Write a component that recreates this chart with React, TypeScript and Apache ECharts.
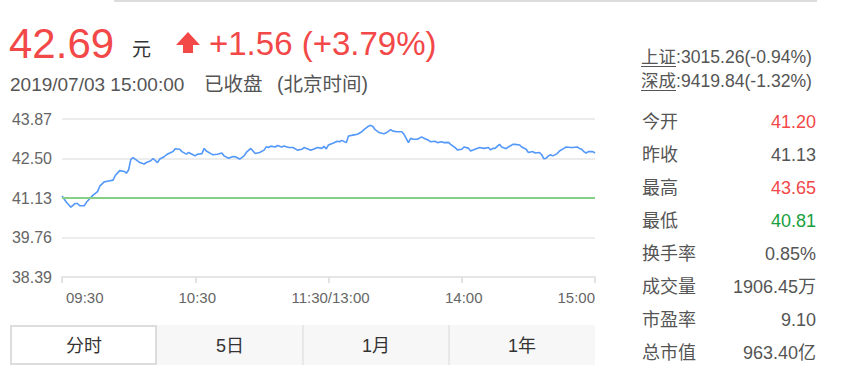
import React, { useEffect, useRef } from "react";
import * as echarts from "echarts";

// ---- data ----
const minutes = [
  0, 2, 4, 6, 7, 8, 10, 11, 13, 14, 16, 17, 19, 21, 23, 24, 26, 28, 29, 30,
  31, 32, 34, 35, 37, 38, 40, 41, 43, 44, 46, 47, 49, 50, 51, 53, 54, 56, 57, 59,
  60, 61, 63, 64, 65, 67, 68, 70, 72, 73, 75, 77, 78, 80, 82, 83, 85, 86, 87, 89,
  91, 92, 93, 94, 96, 97, 99, 100, 102, 104, 106, 108, 109, 111, 112, 114, 115, 117, 118, 119,
  120, 122, 124, 125, 126, 128, 129, 131, 133, 135, 136, 138, 139, 140, 141, 143, 145, 146, 148, 149,
  151, 153, 154, 156, 157, 158, 160, 162, 163, 165, 166, 168, 169, 171, 172, 174, 175, 177, 178, 180,
  181, 183, 184, 186, 188, 190, 192, 193, 194, 195, 197, 198, 200, 201, 203, 204, 206, 207, 209, 210,
  212, 213, 215, 216, 217, 218, 219, 220, 221, 223, 224, 226, 227, 229, 230, 232, 233, 234, 235, 236,
  237, 239, 240,
];
const prices = [
  41.2, 40.98, 40.81, 40.94, 40.94, 40.86, 40.86, 40.98, 41.15, 41.23, 41.35, 41.54, 41.69, 41.72, 41.75, 41.91, 42.08, 42.05, 41.99, 42.11,
  42.47, 42.53, 42.42, 42.36, 42.31, 42.36, 42.42, 42.5, 42.36, 42.48, 42.56, 42.63, 42.71, 42.74, 42.84, 42.82, 42.74, 42.65, 42.71, 42.63,
  42.59, 42.65, 42.67, 42.85, 42.76, 42.67, 42.63, 42.65, 42.69, 42.59, 42.51, 42.57, 42.56, 42.48, 42.59, 42.71, 42.85, 42.76, 42.67, 42.71,
  42.79, 42.91, 42.88, 42.93, 42.9, 42.95, 42.9, 42.93, 42.88, 42.88, 42.79, 42.82, 42.88, 42.82, 42.79, 42.85, 42.88, 42.85, 42.92, 42.83,
  42.97, 43.03, 43.1, 43.08, 43.13, 43.05, 43.28, 43.31, 43.34, 43.43, 43.5, 43.62, 43.65, 43.61, 43.5, 43.39, 43.36, 43.39, 43.5, 43.45,
  43.43, 43.43, 43.34, 43.05, 43.2, 43.17, 43.17, 43.25, 43.2, 43.13, 43.08, 43.1, 43.05, 43.08, 43.05, 43.06, 42.99, 42.88, 42.8, 42.82,
  42.9, 42.86, 42.76, 42.82, 42.88, 42.85, 42.88, 42.8, 42.85, 42.85, 42.99, 42.9, 42.84, 42.9, 42.99, 42.99, 42.97, 42.9, 42.82, 42.71,
  42.74, 42.69, 42.71, 42.63, 42.49, 42.51, 42.59, 42.63, 42.59, 42.67, 42.76, 42.85, 42.9, 42.88, 42.88, 42.9, 42.85, 42.82, 42.74, 42.69,
  42.74, 42.74, 42.69,
];
const prevClose = 41.13;
const yTicks = [38.39, 39.76, 41.13, 42.5, 43.87];
const xTickMinutes = [0, 60, 120, 180, 240];
const xTickLabels = ["09:30", "10:30", "11:30/13:00", "14:00", "15:00"];

const lastPrice = "42.69";
const changeText = "+1.56 (+3.79%)";
const dateText = "2019/07/03 15:00:00";
const statusText = "已收盘";
const zoneText = "(北京时间)";

const indexNames = ["上证", "深成"];
const indexValues = [":3015.26(-0.94%)", ":9419.84(-1.32%)"];

const statLabels = ["今开", "昨收", "最高", "最低", "换手率", "成交量", "市盈率", "总市值"];
const statValues = ["41.20", "41.13", "43.65", "40.81", "0.85%", "1906.45万", "9.10", "963.40亿"];
const statTrend = ["up", "flat", "up", "down", "flat", "flat", "flat", "flat"];

const tabLabels = ["分时", "5日", "1月", "1年"];

// ---- styles ----
const FONT = "'Liberation Sans', Arial, 'Noto Sans CJK SC', sans-serif";
const RED = "#f24848";
const GREEN = "#17a03e";
const GRAY = "#555";

function txt(text: string, x: number, y: number, size: number, fill: string, align = "left") {
  return {
    type: "text",
    x,
    y,
    silent: true,
    style: {
      text,
      fill,
      fontSize: size,
      fontFamily: FONT,
      textAlign: align,
      textVerticalAlign: "middle",
      align,
      verticalAlign: "middle",
    },
  };
}

export default function App() {
  const ref = useRef<HTMLDivElement>(null);

  useEffect(() => {
    document.body.style.margin = "0";
    if (!ref.current) return;
    const chart = echarts.init(ref.current, undefined, { renderer: "svg" });

    const graphic: any[] = [];
    // top border line
    graphic.push({ type: "rect", shape: { x: 114, y: 0, width: 703, height: 2 }, style: { fill: "#dcdcdc" }, silent: true });

    // header
    graphic.push(txt(lastPrice, 9, 43, 42, RED));
    graphic.push(txt("元", 132, 49, 19, "#333"));
    graphic.push({
      type: "polygon",
      silent: true,
      shape: { points: [[188, 32], [176, 45], [183, 45], [183, 53], [193, 53], [193, 45], [200, 45]] },
      style: { fill: RED },
    });
    graphic.push(txt(changeText, 209, 43, 33, RED));
    graphic.push(txt(dateText, 10, 84, 19, GRAY));
    graphic.push(txt(statusText, 204, 84, 19.5, GRAY));
    graphic.push(txt(zoneText, 277, 84, 19.5, GRAY));

    // index lines
    const idxY = [57, 81];
    indexNames.forEach((n, i) => {
      graphic.push(txt(n, 641, idxY[i], 17.5, GRAY));
      graphic.push(txt(indexValues[i], 676, idxY[i], 17.6, GRAY));
      graphic.push({
        type: "line",
        silent: true,
        shape: { x1: 641, y1: idxY[i] + 9.5, x2: 676, y2: idxY[i] + 9.5 },
        style: { stroke: GRAY, lineWidth: 1 },
      });
    });

    // stats
    statLabels.forEach((l, i) => {
      const y = 122 + i * 33;
      graphic.push(txt(l, 642, y, 18, GRAY));
      const c = statTrend[i] === "up" ? RED : statTrend[i] === "down" ? GREEN : GRAY;
      graphic.push(txt(statValues[i], 816, y, 18, c, "right"));
    });

    // tabs
    graphic.push({ type: "rect", silent: true, shape: { x: 157, y: 325, width: 438, height: 40 }, style: { fill: "#f7f7f7" } });
    graphic.push({ type: "rect", silent: true, shape: { x: 11, y: 326, width: 145, height: 38 }, style: { fill: "#fff", stroke: "#dddddd", lineWidth: 2 } });
    [303, 449].forEach((x) => {
      graphic.push({ type: "line", silent: true, shape: { x1: x, y1: 325, x2: x, y2: 365 }, style: { stroke: "#e8e8e8", lineWidth: 2 } });
    });
    const tabCenters = [84, 230, 376, 522];
    tabLabels.forEach((t, i) => graphic.push(txt(t, tabCenters[i], 346, 18, "#333", "center")));

    const interval = +(yTicks[1] - yTicks[0]).toFixed(2);

    const option: any = {
      animation: false,
      grid: { left: 62, right: 252, top: 119, bottom: 105 },
      xAxis: {
        type: "value",
        min: xTickMinutes[0],
        max: xTickMinutes[xTickMinutes.length - 1],
        interval: xTickMinutes[1] - xTickMinutes[0],
        axisLine: { show: true, onZero: false, lineStyle: { color: "#e6e6e6", width: 2 } },
        axisTick: { show: true, length: 6, lineStyle: { color: "#e2e2e2", width: 2 } },
        splitLine: { show: false },
        axisLabel: {
          color: "#666",
          fontSize: 15,
          fontFamily: FONT,
          margin: 13,
          padding: [0, 0, 0, 4],
          alignMinLabel: "left",
          alignMaxLabel: "right",
          formatter: (v: number) => {
            const k = xTickMinutes.indexOf(v);
            return k >= 0 ? xTickLabels[k] : "";
          },
        },
      },
      yAxis: {
        type: "value",
        min: yTicks[0],
        max: yTicks[yTicks.length - 1],
        interval,
        axisLine: { show: false },
        axisTick: { show: false },
        splitLine: { show: true, lineStyle: { color: "#ececec", width: 2 } },
        axisLabel: {
          color: "#666",
          fontSize: 16,
          fontFamily: FONT,
          margin: 10,
          formatter: (v: number) => v.toFixed(2),
        },
      },
      series: [
        {
          type: "line",
          data: minutes.map((m, i) => [m, prices[i]]),
          showSymbol: false,
          silent: true,
          lineStyle: { color: "#5398fa", width: 1.6 },
          z: 3,
          markLine: {
            silent: true,
            symbol: ["none", "none"],
            label: { show: false },
            lineStyle: { color: "#86cf86", width: 2, type: "solid" },
            data: [{ yAxis: prevClose }],
          },
        },
      ],
      graphic,
    };
    chart.setOption(option);
    return () => chart.dispose();
  }, []);

  return <div ref={ref} style={{ width: 847, height: 382 }} />;
}
